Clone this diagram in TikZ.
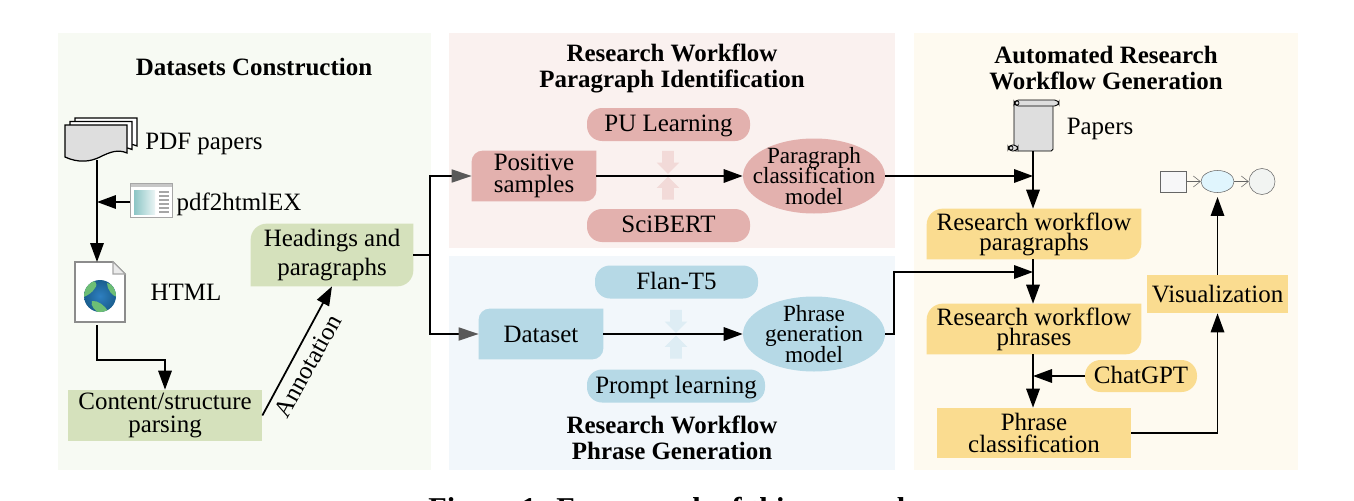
\documentclass[tikz,border=0pt]{standalone}
\usepackage{fontspec}
\setmainfont{Liberation Serif}
\usepackage{xcolor}
\usetikzlibrary{shapes,shapes.arrows,shapes.misc,backgrounds,arrows.meta,calc}
\def\px{0.02cm}
\lineskiplimit=-100pt
\definecolor{panelgreen}{HTML}{F7FAF3}
\definecolor{panelpink}{HTML}{FAF1EF}
\definecolor{panelblue}{HTML}{F2F7FB}
\definecolor{panelyellow}{HTML}{FEFAF0}
\definecolor{boxgreen}{HTML}{D5E1BC}
\definecolor{boxpink}{HTML}{E3B1AE}
\definecolor{boxblue}{HTML}{B6D9E6}
\definecolor{boxyellow}{HTML}{FADC90}
\definecolor{arrowpink}{HTML}{F2DAD8}
\definecolor{arrowblue}{HTML}{DEEDF4}
\definecolor{globein}{HTML}{2E7FC0}
\definecolor{globeout}{HTML}{1A5E8E}
\definecolor{globeland}{HTML}{6DBE75}
\tikzstyle{txt}=[font=\fontsize{14.2}{11.4}\selectfont, align=center, inner sep=0pt]
\tikzstyle{smalltxt}=[font=\fontsize{13.2}{11.6}\selectfont, align=center, inner xsep=-0.3cm, inner ysep=-0.1cm]
\tikzstyle{ttl}=[font=\fontsize{14.2}{14.8}\selectfont\bfseries, align=center, inner sep=0pt]
\tikzstyle{flow}=[line width=1pt, -{Triangle[length=0.38cm,width=0.27cm]}]
\tikzstyle{flowgray}=[line width=1pt, -{Triangle[length=0.4cm,width=0.26cm,color=black!65]}]
\tikzstyle{wire}=[line width=1pt]
\tikzstyle{thin gray}=[line width=0.3pt, draw=black!60]
\tikzstyle{pill}=[txt, rounded corners=0.3cm, minimum height=33*\px, text height=9.4pt, text depth=1pt]
\tikzstyle{blockarrow}=[single arrow, inner xsep=0pt, inner ysep=5.5*\px, minimum width=22*\px, minimum height=23*\px, single arrow head extend=5.5*\px]
\begin{document}
\begin{tikzpicture}[x=0.02cm,y=-0.02cm]
\useasboundingbox (0,0) rectangle (1354,500);
% boxes with text
\node[txt] (head) at (332,255) [minimum width=162*\px, minimum height=62*\px] {Headings and\\[5.6pt]paragraphs};
\node[txt, fill=boxgreen] (parse) at (165,415.5) [minimum width=194*\px, minimum height=51*\px] {Content/structure\\[1.7pt]parsing};
\node[txt] (pos) at (534,176) [minimum width=124*\px, minimum height=50*\px] {Positive\\[1.1pt]samples};
\node[txt] (data) at (541,334) [minimum width=124*\px, minimum height=50*\px] {Dataset};
\node[pill, fill=boxpink] (pu) at (668.5,124.5) [minimum width=163*\px] {PU Learning};
\node[pill, fill=boxpink] (sci) at (668.5,225.5) [minimum width=163*\px] {SciBERT};
\node[pill, fill=boxblue] (flan) at (676.5,282) [minimum width=163*\px] {Flan-T5};
\node[pill, fill=boxblue] (prompt) at (676,386) [minimum width=178*\px] {Prompt learning};
\node[ellipse, smalltxt, fill=boxpink] (pmodel) at (814,176) [minimum width=142*\px, minimum height=75*\px] {Paragraph\\classification\\model};
\node[ellipse, smalltxt, fill=boxblue] (gmodel) at (814,334) [minimum width=142*\px, minimum height=75*\px] {Phrase\\generation\\model};
\node[txt] (wpara) at (1034,234) [minimum width=214*\px, minimum height=50*\px] {Research workflow\\paragraphs};
\node[txt] (wphr) at (1034,329) [minimum width=214*\px, minimum height=50*\px] {Research workflow\\phrases};
\node[pill, fill=boxyellow] (gpt) at (1141,376) [minimum width=112*\px, minimum height=32*\px, rounded corners=0.31cm] {ChatGPT};
\node[txt, fill=boxyellow] (pcls) at (1034,433) [minimum width=194*\px, minimum height=50*\px] {Phrase\\[1pt]classification};
\node[txt, fill=boxyellow] (vis) at (1217.5,294) [minimum width=141*\px, minimum height=38*\px] {Visualization};
% plain labels
\node[txt] (tpdf) at (204,143.5) {PDF papers};
\node[txt] (tconv) at (239,204) {pdf2htmlEX};
\node[txt] (thtml) at (186,292.5) {HTML};
\node[txt] (tpapers) at (1100,129) {Papers};
\node[txt, rotate=61] (tanno) at (308,366) {Annotation};
\node[ttl] (t1) at (254,67) {Datasets Construction};
\node[ttl] (t2) at (672,68) {Research Workflow\\Paragraph Identification};
\node[ttl] (t3) at (672,438) {Research Workflow\\Phrase Generation};
\node[ttl] (t4) at (1106,68) {Automated Research\\Workflow Generation};
\node[ttl, font=\fontsize{17.2}{18}\selectfont\bfseries, anchor=base] (cap) at (671,518) {Figure 1: Framework of this research};
% background panels and boxes with two round corners
\begin{scope}[on background layer]
\fill[white] (0,0) rectangle (1354,500);
\fill[panelgreen] (58,33) rectangle (431,470);
\fill[panelpink] (449,33) rectangle (895,248);
\fill[panelblue] (449,256) rectangle (895,470);
\fill[panelyellow] (914,33) rectangle (1298,470);
\foreach \n/\c/\r in {head/boxgreen/0.32cm, pos/boxpink/0.22cm, data/boxblue/0.22cm, wpara/boxyellow/0.32cm, wphr/boxyellow/0.32cm}
  \fill[\c] (\n.north east) [rounded corners=\r] -- (\n.south east) [sharp corners] -- (\n.south west) [rounded corners=\r] -- (\n.north west) [sharp corners] -- cycle;
\end{scope}
% block arrows
\node[blockarrow, fill=arrowpink, rotate=-90] (pd) at (668,159.5) {};
\node[blockarrow, fill=arrowpink, rotate=90] (pu2) at (668,191) {};
\node[blockarrow, fill=arrowblue, rotate=-90] (bd) at (676,318.5) {};
\node[blockarrow, fill=arrowblue, rotate=90] (bu) at (676,350) {};
% pdf stack
\foreach \d/\f in {10/white,5/white,0/black!13}
  \draw[line width=0.7pt, fill=\f] (65+\d,125-0.7*\d) -- (127+\d,125-0.7*\d) -- (127+\d,153-0.7*\d) .. controls (118+\d,149-0.7*\d) and (110+\d,152-0.7*\d) .. (100+\d,157-0.7*\d) .. controls (90+\d,162-0.7*\d) and (78+\d,163-0.7*\d) .. (65+\d,157-0.7*\d) -- cycle;
\coordinate (pdfout) at (97,160);
% browser window
\draw[line width=0.5pt, draw=black!35, fill=white] (130,183) rectangle (172,217);
\fill[black!22] (130.5,183.5) rectangle (171.5,187);
\shade[left color=teal!45, right color=teal!8] (134,190) rectangle (155,214);
\foreach \y in {191,195,199,203,207,211}
  \fill[black!35] (159,\y) rectangle (169,\y+2);
\coordinate (conv) at (130,202);
% html page
\draw[line width=0.9pt, draw=black!45, fill=white] (75,262) -- (113,262) -- (125,274) -- (125,322) -- (75,322) -- cycle;
\draw[line width=0.6pt, draw=black!35, fill=black!8] (113,262) -- (113,274) -- (125,274) -- cycle;
\shade[inner color=globein, outer color=globeout] (100,296) circle [radius=16];
\begin{scope}
\clip (100,296) circle [radius=16];
\fill[globeland] (88,281) .. controls (94,279) and (99,283) .. (95,288) .. controls (92,293) and (88,295) .. (84,297) -- (82,288) -- cycle;
\fill[globeland] (92,301) .. controls (98,300) and (105,306) .. (108,311) -- (100,314) .. controls (95,310) and (90,306) .. (92,301) -- cycle;
\fill[globeland] (107,283) .. controls (112,283) and (116,290) .. (117,297) .. controls (112,296) and (107,289) .. (107,283) -- cycle;
\end{scope}
\coordinate (htmlin) at (97,262);
\coordinate (htmlout) at (97,325);
% scroll
\draw[line width=0.5pt, fill=black!13, rounded corners=1pt] (1014,103) rectangle (1053,151);
\draw[line width=0.5pt, fill=black!13, rounded corners=2.5pt] (1014,100) rectangle (1059,106);
\draw[line width=0.5pt, fill=black!13, rounded corners=2.5pt] (1008,145) rectangle (1018,151);
\draw[line width=0.4pt] (1017,103) circle [radius=2];
\draw[line width=0.4pt] (1011,148) circle [radius=2];
\coordinate (scrout) at (1033,151);
% small workflow sketch
\node[draw=black!60, line width=0.3pt, fill=blue!8!black!3, minimum width=26*\px, minimum height=21*\px, inner sep=0pt] (sq) at (1173,181.5) {};
\node[ellipse, draw=black!60, line width=0.3pt, fill=cyan!12, minimum width=33*\px, minimum height=22*\px, inner sep=0pt] (el) at (1217.5,181.5) {};
\node[circle, draw=black!60, line width=0.3pt, fill=green!15!black!5, minimum size=26*\px, inner sep=0pt] (ci) at (1262,181.5) {};
\draw[thin gray, -{Straight Barb[length=0.14cm,width=0.22cm]}] (sq) -- (el);
\draw[thin gray, -{Straight Barb[length=0.14cm,width=0.22cm]}] (el) -- (ci);
% connectors
\draw[flow] (pdfout) -- (htmlin);
\draw[flow] (conv) -- (97,202);
\coordinate (parsein) at (parse.north);
\draw[flow] (htmlout) -- (97,360) -| (parsein);
\draw[flow] (parse.east) -- (head.south);
\coordinate (split) at (430,255);
\draw[wire] (head.east) -- (split);
\draw[flowgray] (split) |- (pos.west);
\draw[flowgray] (split) |- (data.west);
\draw[flow] (pos.east) -- (pmodel.west);
\draw[flow] (data.east) -- (gmodel.west);
\draw[flow] (scrout) -- (scrout |- wpara.north);
\draw[flow] (pmodel.east) -- (scrout |- pmodel.east);
\draw[flow] (wpara.south -| scrout) -- (scrout |- wphr.north);
\coordinate (gmid) at (894,272);
\draw[flow] (gmodel.east) -- (894,334) -- (gmid) -- (scrout |- gmid);
\draw[flow] (wphr.south -| scrout) -- (scrout |- pcls.north);
\draw[flow] (gpt.west) -- (scrout |- gpt.west);
\draw[flow] (pcls.east) -| (vis.south);
\draw[flow] (vis.north) -- (1217.5,197);
\end{tikzpicture}
\end{document}
